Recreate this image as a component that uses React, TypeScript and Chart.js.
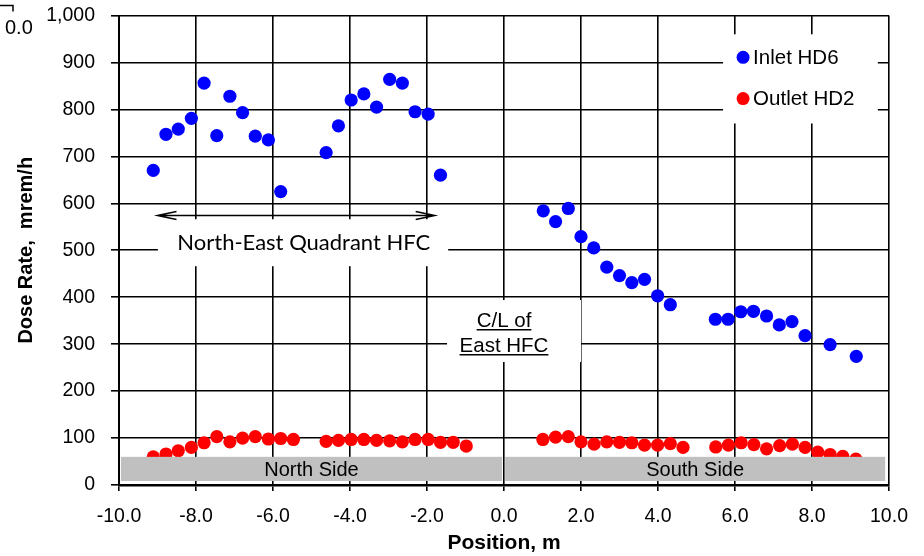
import { useEffect, useRef } from "react";
import { Chart, registerables } from "chart.js";

Chart.register(...registerables);

// Survey positions (m from the east HFC centre line) and measured dose rates (mrem/h)
const inletPositions = [
  -9.11, -8.78, -8.46, -8.12, -7.79, -7.46, -7.12, -6.79, -6.46, -6.12, -5.8,
  -4.62, -4.3, -3.97, -3.64, -3.31, -2.97, -2.64, -2.31, -1.97, -1.65,
  1.02, 1.34, 1.67, 2.0, 2.33, 2.67, 3.0, 3.32, 3.65, 3.99, 4.32,
  5.49, 5.82, 6.15, 6.48, 6.82, 7.15, 7.48, 7.82, 8.47, 9.15,
];
const inletDose = [
  670, 747, 758, 781, 856, 744, 828, 793, 743, 735, 625,
  708, 765, 820, 833, 805, 864, 856, 795, 790, 660,
  584, 561, 589, 529, 505, 464, 446, 431, 438, 403, 384,
  353, 353, 369, 370, 360, 341, 348, 318, 299, 274,
];

const outletPositions = [
  -9.11, -8.78, -8.46, -8.12, -7.79, -7.46, -7.12, -6.79, -6.46, -6.12, -5.8, -5.47,
  -4.62, -4.3, -3.97, -3.64, -3.31, -2.97, -2.64, -2.31, -1.97, -1.65, -1.32, -0.98,
  1.01, 1.34, 1.67, 2.0, 2.34, 2.67, 3.0, 3.32, 3.65, 3.99, 4.32, 4.65,
  5.5, 5.83, 6.16, 6.49, 6.82, 7.16, 7.49, 7.82, 8.15, 8.47, 8.8, 9.14,
];
const outletDose = [
  60, 66, 73, 80, 90, 103, 92, 100, 103, 98, 99, 97,
  93, 95, 97, 97, 95, 94, 92, 97, 97, 91, 91, 83,
  97, 102, 103, 92, 87, 92, 91, 90, 85, 85, 88, 80,
  81, 85, 90, 86, 77, 84, 87, 80, 70, 65, 61, 55,
];

const seriesNames = ["Inlet HD6", "Outlet HD2"];
const seriesColors = ["#0000ff", "#ff0000"];

// Axis ranges and tick spacing
const xRange = [-10, 10];
const xStep = 2;
const yRange = [0, 1000];
const yStep = 100;

// Side bands along the floor of the plot
const sideNames = ["North Side", "South Side"];
const sideSpans = [
  [-9.95, -0.05],
  [0.03, 9.9],
];

const SANS = "'Liberation Sans', Arial, sans-serif";
const HUMANIST = "Lato, 'Open Sans', sans-serif";

// Annotation geometry, in axis units
const legendBox = { x0: 5.69, x1: 9.71, y0: 770, y1: 960 };
const legendRows = [911, 823];
const legendMarkerX = 6.21;
const legendTextX = 6.47;

const quadrantBox = { x0: -8.99, x1: -1.45, y0: 466, y1: 566 };
const quadrantArrow = { from: -9.0, to: -1.8, y: 574 };
const quadrantText = { x: -5.2, y: 515 };

const centerlineBox = { x0: -1.48, x1: 2.0, y0: 262, y1: 394 };
const centerlineLines = ["C/L of", "East HFC"];
const centerlineBaselines = [336, 283];

const bandBox = { y0: 8.5, y1: 60 };
const bandTextY = 34;

const notesPlugin = {
  id: "hfcNotes",
  beforeDatasetsDraw(chart: any) {
    const { ctx } = chart;
    const X = (v: number) => chart.scales.x.getPixelForValue(v);
    const Y = (v: number) => chart.scales.y.getPixelForValue(v);
    ctx.save();

    // white panels behind the text annotations
    ctx.fillStyle = "#ffffff";
    for (const b of [legendBox, quadrantBox, centerlineBox]) {
      const l = X(b.x0);
      const r = X(b.x1);
      const t = Y(b.y1);
      const btm = Y(b.y0);
      ctx.fillRect(l, t, r - l, btm - t);
    }

    // double-headed span arrow over the north-east quadrant
    const ay = Y(quadrantArrow.y);
    const a0 = X(quadrantArrow.from);
    const a1 = X(quadrantArrow.to);
    ctx.strokeStyle = "#000";
    ctx.lineWidth = 1.5;
    ctx.beginPath();
    ctx.moveTo(a0, ay);
    ctx.lineTo(a1, ay);
    ctx.moveTo(a0 + 19, ay - 4);
    ctx.lineTo(a0, ay);
    ctx.lineTo(a0 + 19, ay + 4);
    ctx.moveTo(a1 - 19, ay - 4);
    ctx.lineTo(a1, ay);
    ctx.lineTo(a1 - 19, ay + 4);
    ctx.stroke();

    ctx.fillStyle = "#000";
    ctx.font = `22px ${HUMANIST}`;
    ctx.textAlign = "center";
    ctx.textBaseline = "middle";
    ctx.fillText("North-East Quadrant HFC", X(quadrantText.x), Y(quadrantText.y));

    // underlined centre-line note
    ctx.font = `20.5px ${SANS}`;
    ctx.textBaseline = "alphabetic";
    const cx = X(0);
    centerlineLines.forEach((line, i) => {
      const by = Y(centerlineBaselines[i]);
      ctx.fillText(line, cx, by);
      const w = ctx.measureText(line).width;
      ctx.lineWidth = 1.5;
      ctx.beginPath();
      ctx.moveTo(cx - w / 2, by + 2.5);
      ctx.lineTo(cx + w / 2, by + 2.5);
      ctx.stroke();
    });

    // legend
    ctx.textAlign = "left";
    ctx.textBaseline = "middle";
    ctx.font = `20.5px ${SANS}`;
    chart.data.datasets.forEach((ds: any, i: number) => {
      const my = Y(legendRows[i]);
      ctx.fillStyle = ds.backgroundColor;
      ctx.beginPath();
      ctx.arc(X(legendMarkerX), my, 6.5, 0, Math.PI * 2);
      ctx.fill();
      ctx.fillStyle = "#000";
      ctx.fillText(ds.label, X(legendTextX), my + 1);
    });

    ctx.restore();
  },
  afterDatasetsDraw(chart: any) {
    const { ctx } = chart;
    const X = (v: number) => chart.scales.x.getPixelForValue(v);
    const Y = (v: number) => chart.scales.y.getPixelForValue(v);
    ctx.save();
    const t = Y(bandBox.y1);
    const b = Y(bandBox.y0);
    ctx.font = `20px ${SANS}`;
    ctx.textAlign = "center";
    ctx.textBaseline = "middle";
    sideSpans.forEach((span, i) => {
      const l = X(span[0]);
      const r = X(span[1]);
      ctx.fillStyle = "#c0c0c0";
      ctx.fillRect(l, t, r - l, b - t);
      ctx.fillStyle = "#000";
      ctx.fillText(sideNames[i], (l + r) / 2, Y(bandTextY) + 1);
    });
    ctx.restore();
  },
  afterDraw(chart: any) {
    // stray corner of a neighbouring axis at the top-left edge
    const { ctx } = chart;
    ctx.save();
    ctx.strokeStyle = "#000";
    ctx.lineWidth = 1.5;
    ctx.beginPath();
    ctx.moveTo(0, 5.5);
    ctx.lineTo(13, 5.5);
    ctx.lineTo(13, 11.5);
    ctx.stroke();
    ctx.fillStyle = "#000";
    ctx.font = `20px ${SANS}`;
    ctx.textAlign = "left";
    ctx.textBaseline = "middle";
    ctx.fillText("0.0", 5, 28);
    ctx.restore();
  },
};

export default function App() {
  const canvasRef = useRef<HTMLCanvasElement>(null);

  useEffect(() => {
    document.body.style.margin = "0";
    const canvas = canvasRef.current;
    if (!canvas) return;

    const series = [
      { xs: inletPositions, ys: inletDose },
      { xs: outletPositions, ys: outletDose },
    ];

    const chart = new Chart(canvas, {
      type: "scatter",
      data: {
        datasets: series.map((s, i) => ({
          label: seriesNames[i],
          data: s.xs.map((x, j) => ({ x, y: s.ys[j] })),
          backgroundColor: seriesColors[i],
          borderColor: seriesColors[i],
          borderWidth: 0,
          pointRadius: 6.6,
          pointHoverRadius: 6.6,
          showLine: false,
        })),
      },
      options: {
        responsive: false,
        animation: false,
        devicePixelRatio: 1,
        layout: { padding: { left: 0, top: 15.5, right: 35, bottom: 0 } },
        plugins: {
          legend: { display: false },
          tooltip: { enabled: false },
        },
        scales: {
          x: {
            type: "linear",
            min: xRange[0],
            max: xRange[1],
            ticks: {
              stepSize: xStep,
              autoSkip: false,
              maxRotation: 0,
              padding: 14,
              color: "#000",
              font: { family: SANS, size: 19.5 },
              callback: (v: any) => Number(v).toFixed(1),
            },
            grid: { color: "#000", lineWidth: 1.6, tickLength: 6 },
            border: { color: "#000", width: 2.5 },
            title: {
              display: true,
              text: "Position, m",
              color: "#000",
              font: { family: SANS, size: 21, weight: "bold" },
              padding: { top: 0, bottom: 0 },
            },
            afterFit: (scale: any) => {
              scale.height = 71;
              scale.paddingLeft = 0;
              scale.paddingRight = 0;
            },
          },
          y: {
            type: "linear",
            min: yRange[0],
            max: yRange[1],
            ticks: {
              stepSize: yStep,
              padding: 16,
              color: "#000",
              font: { family: SANS, size: 19.5 },
              callback: (v: any) => Number(v).toLocaleString("en-US"),
            },
            grid: { color: "#000", lineWidth: 1.6, tickLength: 8 },
            border: { color: "#000", width: 2 },
            title: {
              display: true,
              text: "Dose Rate,  mrem/h",
              color: "#000",
              font: { family: SANS, size: 20, weight: "bold" },
              padding: { top: 14, bottom: 0 },
            },
            afterFit: (scale: any) => {
              scale.width = 119;
              scale.paddingTop = 0;
              scale.paddingBottom = 0;
            },
          },
        },
      },
      plugins: [notesPlugin],
    } as any);

    return () => chart.destroy();
  }, []);

  return (
    <div style={{ width: 924, height: 556 }}>
      <canvas ref={canvasRef} width={924} height={556} />
    </div>
  );
}
